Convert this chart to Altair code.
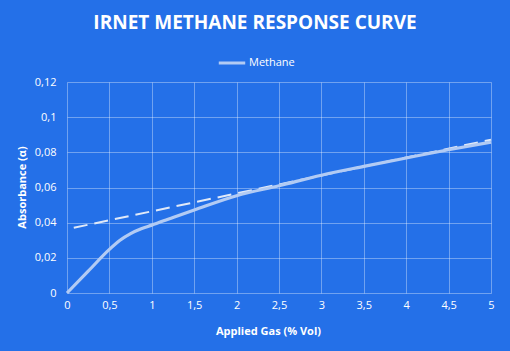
import altair as alt
import pandas as pd

# Methane response curve
gas_x = [0, 0.25, 0.5, 0.625, 0.75, 0.875, 1, 1.25, 1.5, 2, 2.5, 3, 3.5, 4, 4.5, 5]
absorb_y = [0, 0.0124, 0.0248, 0.0300, 0.0338, 0.0365, 0.0386, 0.0430, 0.0472, 0.0553,
            0.0610, 0.0670, 0.0720, 0.0768, 0.0815, 0.0858]

# Linear trendline endpoints
trend_x = [0.08, 5]
trend_y = [0.0371, 0.0872]

x_ticks = [0, 0.5, 1, 1.5, 2, 2.5, 3, 3.5, 4, 4.5, 5]
y_ticks = [0, 0.02, 0.04, 0.06, 0.08, 0.1, 0.12]

BG = "#2470E8"
FONT = "Open Sans"

df = pd.DataFrame({"x": gas_x, "y": absorb_y, "series": "Methane"})
tdf = pd.DataFrame({"x": trend_x, "y": trend_y})

xscale = alt.Scale(domain=[0, 5], nice=False, zero=False)
yscale = alt.Scale(domain=[0, 0.12], nice=False)

label_expr = "replace(toString(datum.value), '.', ',')"

xaxis = alt.Axis(values=x_ticks, tickCount=len(x_ticks), labelExpr=label_expr,
                 title="Applied Gas (% Vol)",
                 titleX=201, titleY=38, titleAlign="center", titleBaseline="middle",
                 labelPadding=6, labelFontSize=11, titleFontSize=11, titleFontWeight="bold",
                 labelFlush=False, labelOverlap=False, labelBound=False,
                 grid=True, ticks=False, domain=False)
yaxis = alt.Axis(values=y_ticks, tickCount=len(y_ticks), labelExpr=label_expr,
                 title="Absorbance (α)",
                 titleX=-45, titleY=105, titleAlign="center", titleBaseline="middle",
                 titleAngle=-90,
                 labelPadding=11, labelFontSize=11, titleFontSize=11, titleFontWeight="bold",
                 labelFlush=False, labelOverlap=False, labelBound=False,
                 grid=True, ticks=False, domain=False)

line = alt.Chart(df).mark_line(interpolate="monotone", strokeWidth=3.2, color="#b2cbf4").encode(
    x=alt.X("x:Q", scale=xscale, axis=xaxis),
    y=alt.Y("y:Q", scale=yscale, axis=yaxis),
    stroke=alt.Stroke("series:N", scale=alt.Scale(domain=["Methane"], range=["#b2cbf4"]),
                      legend=alt.Legend(title=None, orient="none", legendX=150, legendY=-34,
                                        symbolType="stroke", symbolSize=700, symbolStrokeWidth=3,
                                        labelFontSize=11, labelColor="white", labelOffset=2,
                                        labelFont=FONT)),
)

trend = alt.Chart(tdf).mark_line(strokeWidth=2, color="#e0e9f8", strokeDash=[14, 7]).encode(
    x=alt.X("x:Q", scale=xscale),
    y=alt.Y("y:Q", scale=yscale),
)

chart = (trend + line).properties(
    width=424, height=211,
    padding={"left": 67, "top": 82, "right": 19, "bottom": 58},
    autosize=alt.AutoSizeParams(type="none"),
    background=BG,
    title=alt.TitleParams("IRNET  METHANE  RESPONSE  CURVE", anchor="middle", frame="group",
                          dx=-24, offset=0, fontSize=19, font=FONT, fontWeight="bold",
                          color="white", baseline="alphabetic", dy=0),
).configure_view(stroke=None).configure_axis(
    labelColor="white", titleColor="white", labelFont=FONT, titleFont=FONT,
    gridColor="white", gridOpacity=0.35, gridWidth=1,
).configure_title(orient="top")

chart.save("out.html", embed_options={"renderer": "svg", "actions": False})
